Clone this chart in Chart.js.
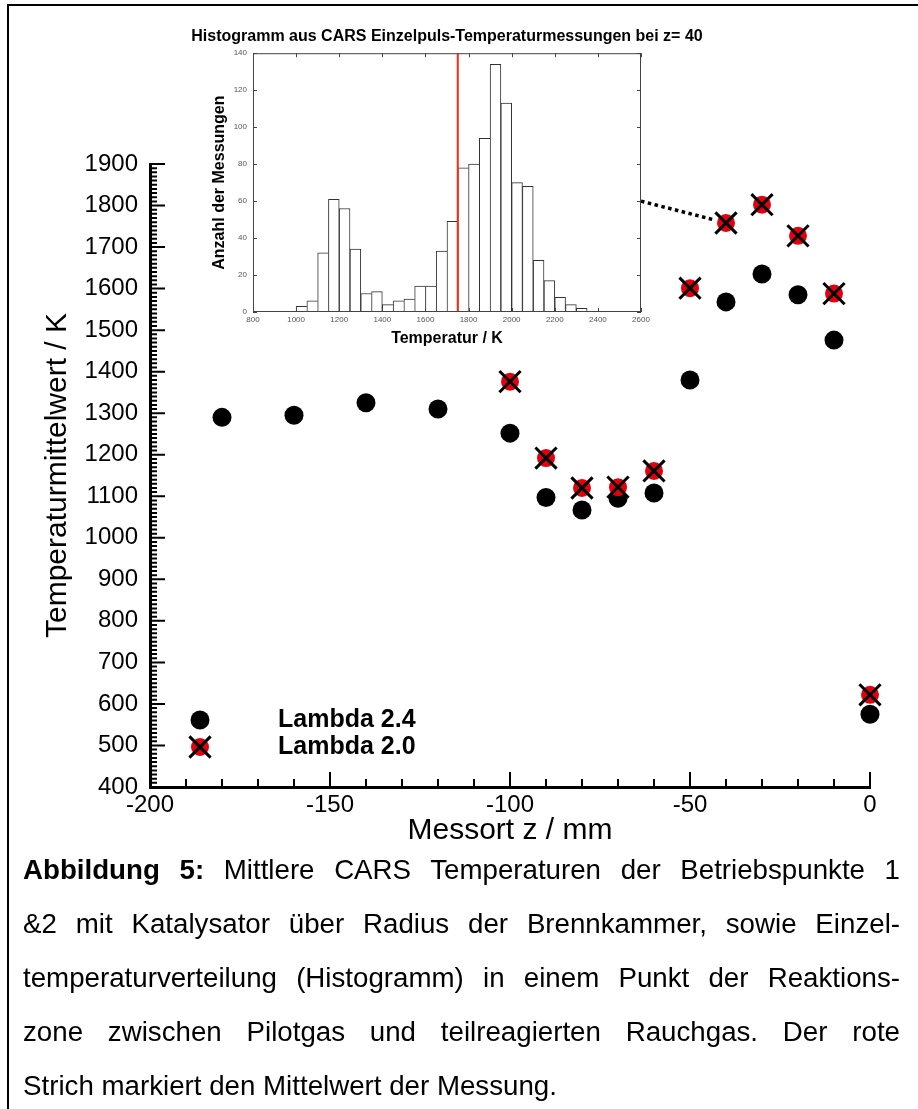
<!DOCTYPE html>
<html>
<head>
<meta charset="utf-8">
<script src="https://cdn.jsdelivr.net/npm/chart.js@4"></script>
<style>
  html, body { margin: 0; padding: 0; background: #fff; }
  body { width: 918px; height: 1109px; position: relative; overflow: hidden; font-family: "Liberation Sans", Arial, sans-serif; }
  #frame { position: absolute; left: 7px; top: 4px; width: 911px; height: 1105px; border-left: 2px solid #000; border-top: 2px solid #000; box-sizing: border-box; }
  #main { position: absolute; left: 0; top: 0; width: 918px; height: 850px; }
  #inset { position: absolute; left: 180px; top: 14px; width: 534px; height: 345px; }
  #caption { position: absolute; left: 23px; top: 843px; width: 877px; font-size: 27.7px; line-height: 54px; color: #000; }
  #caption div { text-align: justify; text-align-last: justify; }
  #caption div.last { text-align-last: left; }
</style>
</head>
<body>
<div id="frame"></div>
<div id="main"><canvas id="mainChart"></canvas></div>
<div id="inset"><canvas id="histChart"></canvas></div>
<div id="caption">
  <div><b>Abbildung 5:</b> Mittlere CARS Temperaturen der Betriebspunkte 1</div>
  <div>&amp;2 mit Katalysator über Radius der Brennkammer, sowie Einzel-</div>
  <div>temperaturverteilung (Histogramm) in einem Punkt der Reaktions-</div>
  <div>zone zwischen Pilotgas und teilreagierten Rauchgas. Der rote</div>
  <div class="last">Strich markiert den Mittelwert der Messung.</div>
</div>
<script>
const FONT = '"Liberation Sans", Arial, sans-serif';

// Mean temperatures over position z (mm)
const zLambda24 = [-180, -160, -140, -120, -100, -90, -80, -70, -60, -50, -40, -30, -20, -10, 0];
const tLambda24 = [1290, 1295, 1325, 1310, 1252, 1097, 1067, 1095, 1108, 1380, 1568, 1635, 1585, 1476, 575];
const zLambda20 = [-100, -90, -80, -70, -60, -50, -40, -30, -20, -10, 0];
const tLambda20 = [1376, 1192, 1120, 1122, 1161, 1601, 1758, 1802, 1727, 1588, 622];

// Histogram of single-shot temperatures at z = -40
const binStarts = [1000, 1050, 1100, 1150, 1200, 1250, 1300, 1350, 1400, 1450, 1500, 1550, 1600, 1650,
                   1700, 1750, 1800, 1850, 1900, 1950, 2000, 2050, 2100, 2150, 2200, 2250, 2300];
const binCounts = [3, 6, 32, 61, 56, 34, 10, 11, 4, 6, 7, 14, 14, 33,
                   49, 78, 80, 94, 134, 113, 70, 68, 28, 17, 8, 4, 2];
const binWidth = 50;
const meanTemp = 1750;
const histPosition = -40;
const connectorCount = 60;

const legendItems = ['Lambda 2.4', 'Lambda 2.0'];

// ---------- inset histogram ----------

const insetFrame = {
  id: 'insetFrame',
  afterDatasetsDraw(chart) {
    const { ctx, chartArea: a, scales: { x, y } } = chart;
    ctx.save();
    // mean line
    const mx = x.getPixelForValue(meanTemp);
    ctx.strokeStyle = '#ff2a12';
    ctx.lineWidth = 2;
    ctx.beginPath();
    ctx.moveTo(mx, a.top);
    ctx.lineTo(mx, a.bottom);
    ctx.stroke();
    // frame + inward ticks
    ctx.strokeStyle = '#444';
    ctx.lineWidth = 1;
    ctx.strokeRect(a.left + 0.5, a.top + 0.5, a.right - a.left - 1, a.bottom - a.top - 1);
    ctx.beginPath();
    x.ticks.forEach(t => {
      const px = Math.round(x.getPixelForValue(t.value)) + 0.5;
      ctx.moveTo(px, a.bottom); ctx.lineTo(px, a.bottom - 4);
      ctx.moveTo(px, a.top); ctx.lineTo(px, a.top + 4);
    });
    y.ticks.forEach(t => {
      const py = Math.round(y.getPixelForValue(t.value)) + 0.5;
      ctx.moveTo(a.left, py); ctx.lineTo(a.left + 4, py);
      ctx.moveTo(a.right, py); ctx.lineTo(a.right - 4, py);
    });
    ctx.stroke();
    ctx.restore();
  }
};

const histChart = new Chart(document.getElementById('histChart'), {
  type: 'bar',
  data: {
    datasets: [{
      data: binStarts.map((b, i) => ({ x: b + binWidth / 2, y: binCounts[i] })),
      backgroundColor: '#fff',
      borderColor: '#333',
      borderWidth: ctx => {
        const i = ctx.dataIndex;
        const last = i === binCounts.length - 1 || binCounts[i + 1] < binCounts[i];
        return { top: 1, left: 1, bottom: 0, right: last ? 1 : 0 };
      },
      borderSkipped: 'start',
      barPercentage: 1,
      categoryPercentage: 1
    }]
  },
  options: {
    responsive: true,
    maintainAspectRatio: false,
    animation: false,
    layout: { padding: 0 },
    plugins: {
      legend: { display: false },
      tooltip: { enabled: false },
      title: {
        display: true,
        text: 'Histogramm aus CARS Einzelpuls-Temperaturmessungen bei z= 40',
        color: '#000',
        font: { family: FONT, size: 16, weight: 'bold', lineHeight: 1.2 },
        padding: { top: 13, bottom: 7 }
      }
    },
    scales: {
      x: {
        type: 'linear', min: 800, max: 2600, offset: false,
        afterFit: s => { s.height = 47; },
        grid: { display: false, drawTicks: false }, border: { display: false },
        ticks: { stepSize: 200, color: '#555', padding: 3, maxRotation: 0, font: { family: FONT, size: 8 }, callback: v => String(v) },
        title: { display: true, text: 'Temperatur / K', color: '#000', font: { family: FONT, size: 16, weight: 'bold' }, padding: { bottom: 11 } }
      },
      y: {
        min: 0, max: 140,
        afterFit: s => { s.width = 73; },
        grid: { display: false, drawTicks: false }, border: { display: false },
        ticks: { stepSize: 20, color: '#555', padding: 6, font: { family: FONT, size: 8 }, callback: v => String(v) },
        title: { display: true, text: 'Anzahl der Messungen', color: '#000', font: { family: FONT, size: 16, weight: 'bold' }, padding: { top: 30 } }
      },
      // empty right axis that keeps the plot centred under the title
      yRight: {
        position: 'right', min: 0, max: 140,
        afterFit: s => { s.width = 73; },
        grid: { display: false, drawTicks: false }, border: { display: false },
        ticks: { display: false }
      }
    }
  },
  plugins: [insetFrame]
});

// ---------- main chart ----------

const axisTicks = {
  id: 'axisTicks',
  afterDraw(chart) {
    const { ctx, chartArea: a, scales: { x, y } } = chart;
    ctx.save();
    ctx.strokeStyle = '#000';
    ctx.lineWidth = 2;
    ctx.beginPath();
    for (let v = y.min; v <= y.max; v += 10) {
      const py = y.getPixelForValue(v);
      ctx.moveTo(a.left, py); ctx.lineTo(a.left + (v % 100 === 0 ? 15 : 7), py);
    }
    for (let v = x.min; v <= x.max; v += 10) {
      const px = x.getPixelForValue(v);
      ctx.moveTo(px, a.bottom); ctx.lineTo(px, a.bottom - (v % 50 === 0 ? 15 : 8));
    }
    ctx.stroke();
    ctx.restore();
  }
};

function drawDot(ctx, x, y) {
  ctx.fillStyle = '#000';
  ctx.beginPath(); ctx.arc(x, y, 9.5, 0, Math.PI * 2); ctx.fill();
}
function drawCross(ctx, x, y) {
  ctx.fillStyle = '#e3000f';
  ctx.beginPath(); ctx.arc(x, y, 9, 0, Math.PI * 2); ctx.fill();
  const d = 15 * Math.SQRT1_2;
  ctx.strokeStyle = '#000'; ctx.lineWidth = 3;
  ctx.beginPath();
  ctx.moveTo(x - d, y - d); ctx.lineTo(x + d, y + d);
  ctx.moveTo(x + d, y - d); ctx.lineTo(x - d, y + d);
  ctx.stroke();
}

const innerLegend = {
  id: 'innerLegend',
  afterDraw(chart) {
    const { ctx, chartArea: a } = chart;
    const mx = a.left + 50, tx = a.left + 128;
    const rows = [a.bottom - 67, a.bottom - 40];
    ctx.save();
    drawDot(ctx, mx, rows[0]);
    drawCross(ctx, mx, rows[1]);
    ctx.fillStyle = '#000';
    ctx.font = 'bold 25px ' + FONT;
    ctx.textBaseline = 'middle';
    legendItems.forEach((t, i) => ctx.fillText(t, tx, rows[i]));
    ctx.restore();
  }
};

const connector = {
  id: 'connector',
  afterDraw(chart) {
    const { ctx, scales: { x, y } } = chart;
    const insetEl = document.getElementById('inset');
    const x0 = insetEl.offsetLeft + histChart.chartArea.right;
    const y0 = insetEl.offsetTop + histChart.scales.y.getPixelForValue(connectorCount);
    const i = zLambda20.indexOf(histPosition);
    const cx = x.getPixelForValue(zLambda20[i]), cy = y.getPixelForValue(tLambda20[i]);
    const dx = cx - x0, dy = cy - y0, d = Math.hypot(dx, dy);
    ctx.save();
    ctx.strokeStyle = '#000';
    ctx.lineWidth = 3.5;
    ctx.setLineDash([3.5, 3.5]);
    ctx.beginPath();
    ctx.moveTo(x0, y0);
    ctx.lineTo(cx - dx / d * 14, cy - dy / d * 14);
    ctx.stroke();
    ctx.restore();
  }
};

const pts20 = zLambda20.map((z, i) => ({ x: z, y: tLambda20[i] }));
const pts24 = zLambda24.map((z, i) => ({ x: z, y: tLambda24[i] }));

new Chart(document.getElementById('mainChart'), {
  type: 'scatter',
  data: {
    datasets: [
      { label: legendItems[1], data: pts20, clip: false, pointStyle: 'crossRot', pointRadius: 15, pointBorderColor: '#000', pointBorderWidth: 3, pointBackgroundColor: 'rgba(0,0,0,0)', order: 0 },
      { label: legendItems[1], data: pts20, clip: false, pointStyle: 'circle', pointRadius: 9, pointBackgroundColor: '#e3000f', pointBorderWidth: 0, order: 1 },
      { label: legendItems[0], data: pts24, clip: false, pointStyle: 'circle', pointRadius: 9.5, pointBackgroundColor: '#000', pointBorderWidth: 0, order: 2 }
    ]
  },
  options: {
    responsive: true,
    maintainAspectRatio: false,
    animation: false,
    layout: { padding: { top: 164, right: 48, bottom: 0, left: 0 } },
    plugins: { legend: { display: false }, tooltip: { enabled: false } },
    scales: {
      x: {
        type: 'linear', min: -200, max: 0,
        afterFit: s => { s.height = 63; },
        grid: { display: false, drawTicks: false },
        border: { display: true, color: '#000', width: 3 },
        ticks: { stepSize: 50, color: '#000', padding: 4, maxRotation: 0, font: { family: FONT, size: 24 }, callback: v => String(v) },
        title: { display: true, text: 'Messort z / mm', color: '#000', font: { family: FONT, size: 30, lineHeight: 1 }, padding: { top: 0, bottom: 4 } }
      },
      y: {
        min: 400, max: 1900,
        afterFit: s => { s.width = 150; },
        grid: { display: false, drawTicks: false },
        border: { display: true, color: '#000', width: 3 },
        ticks: { stepSize: 100, color: '#000', padding: 12, font: { family: FONT, size: 24 }, callback: v => String(v) },
        title: { display: true, text: 'Temperaturmittelwert / K', color: '#000', font: { family: FONT, size: 30, lineHeight: 1 }, padding: { top: 43, bottom: 0 } }
      }
    }
  },
  plugins: [axisTicks, innerLegend, connector]
});
</script>
</body>
</html>
